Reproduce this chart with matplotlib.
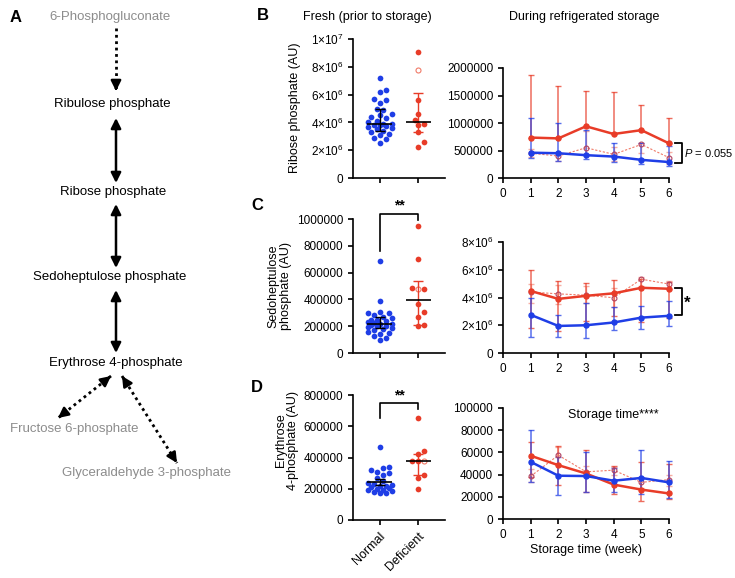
import numpy as np
import matplotlib.pyplot as plt

plt.rcParams['font.family'] = ['Liberation Sans', 'DejaVu Sans']
plt.rcParams['font.size'] = 8.5
plt.rcParams['mathtext.fontset'] = 'custom'
plt.rcParams['mathtext.rm'] = 'Liberation Sans'
plt.rcParams['mathtext.it'] = 'Liberation Sans:italic'
plt.rcParams['axes.linewidth'] = 1.2
plt.rcParams['xtick.major.width'] = 1.2
plt.rcParams['ytick.major.width'] = 1.2
plt.rcParams['xtick.major.size'] = 3.5
plt.rcParams['ytick.major.size'] = 3.5

BLUE = '#1f3ee6'
RED = '#e83c28'
PALE = '#f07a68'
GRAY = '#8c8c8c'

groups = ['Normal', 'Deficient']
weeks = [1, 2, 3, 4, 5, 6]

# ---- B: ribose phosphate, fresh
rib_normal = [7.2e6, 6.35e6, 6.2e6, 5.65e6, 5.6e6, 5.4e6, 5.0e6, 4.9e6, 4.6e6, 4.5e6,
              4.4e6, 4.3e6, 4.1e6, 4.0e6, 3.9e6, 3.85e6, 3.8e6, 3.8e6, 3.75e6, 3.7e6,
              3.6e6, 3.5e6, 3.4e6, 3.3e6, 3.2e6, 3.1e6, 2.9e6, 2.8e6, 2.55e6]
rib_def = [9.1e6, 5.6e6, 4.6e6, 4.2e6, 3.9e6, 3.8e6, 3.3e6, 2.6e6, 2.25e6]
rib_def_open = [7.8e6]
rib_med = [3.85e6, 4.0e6]
rib_lo = [3.4e6, 3.3e6]
rib_hi = [4.95e6, 6.1e6]

# ---- C: sedoheptulose phosphate, fresh
sed_normal = [690e3, 385e3, 305e3, 300e3, 295e3, 280e3, 270e3, 260e3, 250e3, 245e3,
              240e3, 230e3, 225e3, 220e3, 215e3, 210e3, 205e3, 200e3, 195e3, 190e3,
              180e3, 170e3, 160e3, 150e3, 140e3, 125e3, 110e3, 95e3]
sed_def = [945e3, 700e3, 485e3, 480e3, 365e3, 305e3, 270e3, 210e3, 200e3]
sed_def_open = [475e3]
sed_med = [220e3, 395e3]
sed_lo = [185e3, 210e3]
sed_hi = [265e3, 535e3]

# ---- D: erythrose 4-phosphate, fresh
ery_normal = [465e3, 340e3, 330e3, 320e3, 310e3, 300e3, 290e3, 270e3, 250e3, 240e3,
              230e3, 225e3, 220e3, 215e3, 210e3, 205e3, 200e3, 195e3, 190e3, 185e3,
              180e3, 175e3, 170e3]
ery_def = [655e3, 440e3, 420e3, 380e3, 375e3, 290e3, 270e3, 200e3]
ery_def_open = [377e3]
ery_med = [242e3, 378e3]
ery_lo = [225e3, 290e3]
ery_hi = [260e3, 420e3]

# ---- storage series: normal (blue), deficient fit (red), deficient obs (pale dashed)
ribS_blue = [460e3, 450e3, 415e3, 390e3, 330e3, 290e3]
ribS_blue_lo = [360e3, 310e3, 345e3, 300e3, 250e3, 215e3]
ribS_blue_hi = [1090e3, 1005e3, 880e3, 645e3, 640e3, 580e3]
ribS_red = [735e3, 720e3, 940e3, 800e3, 870e3, 630e3]
ribS_red_lo = [735e3, 720e3, 940e3, 800e3, 870e3, 630e3]
ribS_red_hi = [1880e3, 1680e3, 1580e3, 1570e3, 1330e3, 1090e3]
ribS_pale = [450e3, 400e3, 550e3, 430e3, 610e3, 370e3]
ribS_pale_lo = [380e3, 310e3, 420e3, 310e3, 450e3, 250e3]
ribS_pale_hi = [520e3, 480e3, 860e3, 560e3, 640e3, 470e3]

sedS_blue = [2.75e6, 1.95e6, 2.0e6, 2.2e6, 2.55e6, 2.68e6]
sedS_blue_lo = [1.15e6, 1.15e6, 1.1e6, 1.65e6, 1.7e6, 1.95e6]
sedS_blue_hi = [3.95e6, 2.75e6, 3.62e6, 3.35e6, 3.42e6, 3.78e6]
sedS_red = [4.47e6, 3.9e6, 4.12e6, 4.3e6, 4.7e6, 4.63e6]
sedS_red_lo = [1.78e6, 1.6e6, 2.3e6, 2.65e6, 2.2e6, 2.55e6]
sedS_red_hi = [6.0e6, 5.22e6, 5.08e6, 5.27e6, 5.32e6, 5.15e6]
sedS_pale = [4.4e6, 4.26e6, 4.17e6, 3.98e6, 5.32e6, 4.97e6]
sedS_pale_lo = [3.6e6, 3.5e6, 3.6e6, 3.3e6, 4.8e6, 4.6e6]
sedS_pale_hi = [5.0e6, 4.9e6, 4.8e6, 4.7e6, 5.45e6, 5.2e6]

eryS_blue = [51.5e3, 39e3, 38.7e3, 34.5e3, 37e3, 33e3]
eryS_blue_lo = [33e3, 22e3, 24e3, 24.5e3, 22.5e3, 18.5e3]
eryS_blue_hi = [80e3, 55.5e3, 60e3, 46e3, 62e3, 52e3]
eryS_red = [57e3, 48.5e3, 41e3, 31e3, 26.5e3, 23e3]
eryS_red_lo = [38e3, 31e3, 24e3, 22.5e3, 16.5e3, 18e3]
eryS_red_hi = [69.5e3, 66e3, 62e3, 47.5e3, 51e3, 49.5e3]
eryS_pale = [38.5e3, 57.5e3, 42.5e3, 44e3, 33e3, 35.5e3]
eryS_pale_lo = [33e3, 50e3, 38e3, 40e3, 28e3, 30e3]
eryS_pale_hi = [45e3, 65e3, 48e3, 47e3, 38e3, 40e3]


def swarm(vals, center, sx, sy, d=6.0, maxoff=13.0):
    # simple beeswarm in pixel space, width limited to +-maxoff px
    vals = np.asarray(vals)
    xs = np.zeros(len(vals))
    placed = []
    cands = [0.0]
    k = 1
    while k * d * 0.5 <= maxoff:
        cands += [k * d * 0.5, -k * d * 0.5]
        k += 1
    for i in np.argsort(vals):
        y = vals[i] * sy
        best, bestd = 0.0, -1
        for c in cands:
            md = min([np.hypot(c - px, y - py) for px, py in placed] + [99])
            if md >= d:
                best = c
                break
            if md > bestd:
                best, bestd = c, md
        placed.append((best, y))
        xs[i] = center + best / sx
    return xs


W, H = 735, 578
fig = plt.figure(figsize=(W / 100, H / 100), dpi=100)

def box(x0, y0, x1, y1):
    return [x0 / W, 1 - y1 / H, (x1 - x0) / W, (y1 - y0) / H]

XL = (-0.68, 1.68)

def fresh(rect, normal, deff, deff_open, med, lo, hi, ymax, yt, ylabels):
    ax = fig.add_axes(box(*rect))
    ax.set_xlim(*XL)
    ax.set_ylim(0, ymax)
    pw = rect[2] - rect[0]
    ph = rect[3] - rect[1]
    sx = pw / (XL[1] - XL[0])
    sy = ph / ymax
    xn = swarm(normal, 0, sx, sy)
    allr = list(deff) + list(deff_open)
    xr = swarm(allr, 1, sx, sy)
    ax.scatter(xn, normal, s=17, color=BLUE, lw=0, zorder=3, clip_on=False)
    ax.scatter(xr[:len(deff)], deff, s=17, color=RED, lw=0, zorder=3, clip_on=False)
    ax.scatter(xr[len(deff):], deff_open, s=13, facecolor='white', edgecolor=PALE,
               lw=0.8, zorder=3, clip_on=False)
    for i, c in enumerate(['black', RED]):
        ax.errorbar([i], [med[i]], yerr=[[med[i] - lo[i]], [hi[i] - med[i]]], fmt='none',
                    ecolor=c, elinewidth=1.0, capsize=3.5, capthick=1.0, zorder=4)
        ax.hlines(med[i], i - 0.33, i + 0.33, color='black', lw=1.2, zorder=5)
    ax.set_xticks([0, 1])
    ax.set_xticklabels([])
    ax.set_yticks(yt)
    ax.set_yticklabels(ylabels)
    for s in ['top', 'right']:
        ax.spines[s].set_visible(False)
    return ax


def storage(rect, ymax, yt, ylabels, blue, blo, bhi, red, rlo, rhi, pale, plo, phi):
    ax = fig.add_axes(box(*rect))
    ax.set_xlim(0, 6)
    ax.set_ylim(0, ymax)
    b = np.array(blue); r = np.array(red); p = np.array(pale)
    ax.errorbar(weeks, p, yerr=[p - np.array(plo), np.array(phi) - p], fmt='none',
                ecolor=PALE, elinewidth=1.0, capsize=2.5, alpha=0.6, clip_on=False)
    ax.errorbar(weeks, r, yerr=[r - np.array(rlo), np.array(rhi) - r], fmt='none',
                ecolor=RED, elinewidth=1.1, capsize=2.5, alpha=0.75, clip_on=False)
    ax.errorbar(weeks, b, yerr=[b - np.array(blo), np.array(bhi) - b], fmt='none',
                ecolor=BLUE, elinewidth=1.1, capsize=2.5, alpha=0.75, clip_on=False)
    ax.plot(weeks, p, ls=(0, (2, 1.5)), lw=0.8, color=PALE, marker='o', ms=3.5,
            mfc='none', mec='#b04060', mew=0.8, clip_on=False, zorder=3)
    ax.plot(weeks, r, lw=1.8, color=RED, marker='o', ms=3.6, clip_on=False, zorder=4)
    ax.plot(weeks, b, lw=1.8, color=BLUE, marker='o', ms=3.6, clip_on=False, zorder=5)
    ax.set_xticks(range(7))
    ax.set_yticks(yt)
    ax.set_yticklabels(ylabels)
    for s in ['top', 'right']:
        ax.spines[s].set_visible(False)
    return ax


def sci(v):
    if v == 0:
        return '0'
    e = int(np.floor(np.log10(v)))
    m = v / 10 ** e
    return '%d×10$^{%d}$' % (round(m), e)

# B
t = [0, 2e6, 4e6, 6e6, 8e6, 1e7]
axB = fresh((353, 39, 445, 178), rib_normal, rib_def, rib_def_open,
            rib_med, rib_lo, rib_hi, 1e7, t, [sci(v) for v in t])
t = [0, 500000, 1000000, 1500000, 2000000]
axB2 = storage((503, 68, 669, 178), 2e6, t, [str(v) for v in t],
               ribS_blue, ribS_blue_lo, ribS_blue_hi, ribS_red, ribS_red_lo, ribS_red_hi,
               ribS_pale, ribS_pale_lo, ribS_pale_hi)
axB2.plot([6.22, 6.47, 6.47, 6.22], [633e3, 633e3, 271e3, 271e3], color='black', lw=1.3, clip_on=False)
axB2.text(6.55, 452e3, '$P$ = 0.055', va='center', ha='left', fontsize=8)

# C
t = [0, 200000, 400000, 600000, 800000, 1000000]
axC = fresh((353, 219, 445, 353), sed_normal, sed_def, sed_def_open,
            sed_med, sed_lo, sed_hi, 1e6, t, [str(v) for v in t])
axC.plot([0, 0, 1, 1], [760e3, 1.04e6, 1.04e6, 0.995e6], color='black', lw=1.2, clip_on=False)
axC.text(0.5, 1.05e6, '**', ha='center', va='bottom', fontsize=10, fontweight='bold')
t = [0, 2e6, 4e6, 6e6, 8e6]
axC2 = storage((503, 242, 669, 353), 8e6, t, [sci(v) for v in t],
               sedS_blue, sedS_blue_lo, sedS_blue_hi, sedS_red, sedS_red_lo, sedS_red_hi,
               sedS_pale, sedS_pale_lo, sedS_pale_hi)
axC2.plot([6.22, 6.47, 6.47, 6.22], [4.66e6, 4.66e6, 2.72e6, 2.72e6], color='black', lw=1.3, clip_on=False)
axC2.text(6.55, 3.55e6, '*', va='center', ha='left', fontsize=12, fontweight='bold')

# D
t = [0, 200000, 400000, 600000, 800000]
axD = fresh((353, 395, 445, 520), ery_normal, ery_def, ery_def_open,
            ery_med, ery_lo, ery_hi, 800000, t, [str(v) for v in t])
axD.set_xticklabels(groups, rotation=45, ha='right', rotation_mode='anchor', fontsize=9)
axD.plot([0, 0, 1, 1], [650e3, 748e3, 748e3, 708e3], color='black', lw=1.2, clip_on=False)
axD.text(0.5, 752e3, '**', ha='center', va='bottom', fontsize=10, fontweight='bold')
t = [0, 20000, 40000, 60000, 80000, 100000]
axD2 = storage((503, 408, 669, 519), 100000, t, [str(v) for v in t],
               eryS_blue, eryS_blue_lo, eryS_blue_hi, eryS_red, eryS_red_lo, eryS_red_hi,
               eryS_pale, eryS_pale_lo, eryS_pale_hi)
axD2.set_xlabel('Storage time (week)', fontsize=9, labelpad=2)
axD2.text(3.98, 93.5e3, 'Storage time****', ha='center', va='center', fontsize=9)

# overlay: panel A and labels
ov = fig.add_axes([0, 0, 1, 1], zorder=-1)
ov.set_xlim(0, W)
ov.set_ylim(H, 0)
ov.axis('off')

for lab, x, y in [('A', 16, 17), ('B', 263, 16), ('C', 257, 206), ('D', 257, 387)]:
    ov.text(x, y, lab, fontsize=12, fontweight='bold', ha='center', va='center')
ov.text(367, 17, 'Fresh (prior to storage)', fontsize=9, ha='center', va='center')
ov.text(584, 17, 'During refrigerated storage', fontsize=9, ha='center', va='center')
ov.text(295, 108, 'Ribose phosphate (AU)', fontsize=9, rotation=90, ha='center', va='center')
ov.text(280, 286, 'Sedoheptulose\nphosphate (AU)', fontsize=9, rotation=90, ha='center',
        va='center', linespacing=1.1)
ov.text(287, 440, 'Erythrose\n4-phosphate (AU)', fontsize=9, rotation=90, ha='center',
        va='center', linespacing=1.1)

nodes = [('6-Phosphogluconate', 110, 17, GRAY),
         ('Ribulose phosphate', 112, 104, 'black'),
         ('Ribose phosphate', 113, 192, 'black'),
         ('Sedoheptulose phosphate', 110, 277, 'black'),
         ('Erythrose 4-phosphate', 116, 363, 'black'),
         ('Fructose 6-phosphate', 74, 429, GRAY),
         ('Glyceraldehyde 3-phosphate', 147, 473, GRAY)]
for name, x, y, c in nodes:
    ov.text(x, y, name, fontsize=9.5, color=c, ha='center', va='center')

head = dict(arrowstyle='-|>,head_length=0.7,head_width=0.35', color='black', lw=1.8,
            shrinkA=0, shrinkB=0)

def solid2(x0, y0, x1, y1):
    ov.annotate('', xy=(x1, y1), xytext=(x0, y0),
                arrowprops=dict(arrowstyle='<|-|>,head_length=0.7,head_width=0.35',
                                color='black', lw=1.8, shrinkA=0, shrinkB=0))

def dotted(x0, y0, x1, y1, both):
    ov.plot([x0, x1], [y0, y1], ls=(0, (1, 1.3)), color='black', lw=2)
    v = np.array([x1 - x0, y1 - y0], float)
    u = v / np.hypot(*v)
    ov.annotate('', xy=(x1, y1), xytext=(x1 - u[0] * 4, y1 - u[1] * 4), arrowprops=head)
    if both:
        ov.annotate('', xy=(x0, y0), xytext=(x0 + u[0] * 4, y0 + u[1] * 4), arrowprops=head)

dotted(116, 28, 116, 91, False)
solid2(116, 118, 116, 183)
solid2(116, 204, 116, 268)
solid2(116, 290, 116, 353)
dotted(111, 376, 58, 418, True)
dotted(122, 376, 177, 463, True)

fig.savefig('out.png', dpi=100)
